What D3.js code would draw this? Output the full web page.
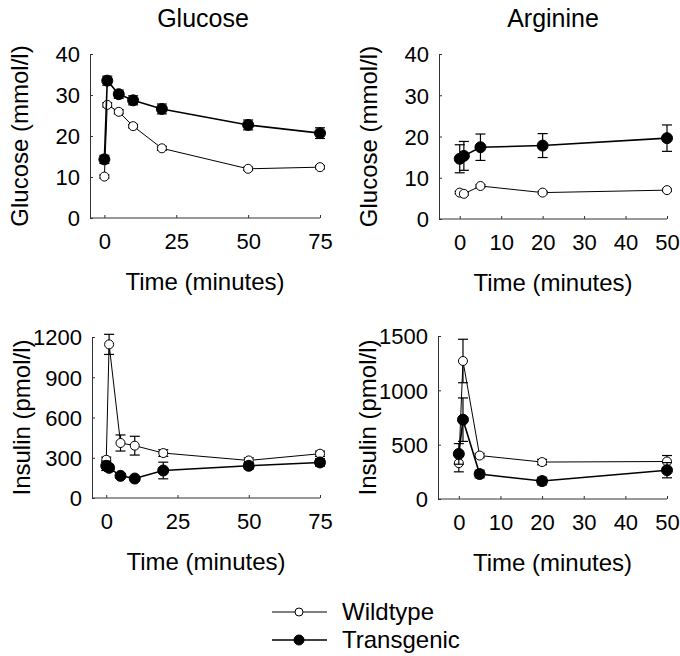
<!DOCTYPE html>
<html lang="en">
<head>
<meta charset="UTF-8">
<title>Glucose and Arginine tests</title>
<script src="https://cdn.jsdelivr.net/npm/d3@7/dist/d3.min.js"></script>
<style>
    body { margin: 0; background: #fff; }
    text { font-family: "Liberation Sans", Arial, sans-serif; fill: #000; }
    .axis path, .axis line { stroke: #333; }
    .axis text { font-size: 22px; }
</style>
</head>
<body>
<script>
// time points (minutes)
const glucoseTestTime = [0, 1, 5, 10, 20, 50, 75];
const arginineTestTime = [0, 1, 5, 20, 50];

// glucose test: blood glucose (mmol/l)
const gttGlucoseWild = [10.1, 27.6, 25.9, 22.4, 17.0, 12.0, 12.4];
const gttGlucoseWildErr = [0.4, 0.5, 0.5, 0.4, 0.5, 0.4, 0.4];
const gttGlucoseTrans = [14.3, 33.5, 30.2, 28.7, 26.6, 22.7, 20.7];
const gttGlucoseTransErr = [1.0, 1.1, 1.0, 1.1, 1.2, 1.2, 1.3];

// glucose test: insulin (pmol/l)
const gttInsulinWild = [285, 1145, 410, 390, 335, 280, 330];
const gttInsulinWildErr = [20, 75, 60, 70, 25, 20, 20];
const gttInsulinTrans = [240, 225, 165, 145, 205, 240, 265];
const gttInsulinTransErr = [35, 25, 15, 15, 62, 25, 28];

// arginine test: blood glucose (mmol/l)
const argGlucoseWild = [6.4, 6.1, 8.0, 6.4, 7.0];
const argGlucoseWildErr = [0.3, 0.3, 0.3, 0.3, 0.3];
const argGlucoseTrans = [14.6, 15.3, 17.4, 17.8, 19.6];
const argGlucoseTransErr = [3.4, 3.5, 3.2, 2.9, 3.2];

// arginine test: insulin (pmol/l)
const argInsulinWild = [330, 1270, 400, 340, 345];
const argInsulinWildErr = [80, 200, 20, 25, 55];
const argInsulinTrans = [415, 730, 230, 165, 265];
const argInsulinTransErr = [95, 200, 35, 35, 70];

const titles = ["Glucose", "Arginine"];
const seriesNames = ["Wildtype", "Transgenic"];

const width = 680, height = 656;

const svg = d3.select("body").append("svg")
    .attr("width", width)
    .attr("height", height);

const panels = [
    {x0: 90, x1: 320, y0: 218, y1: 54, xmax: 75, xticks: [0, 25, 50, 75],
     ymax: 40, yticks: [0, 10, 20, 30, 40], ylabel: "Glucose (mmol/l)",
     time: glucoseTestTime, wild: gttGlucoseWild, wildErr: gttGlucoseWildErr,
     trans: gttGlucoseTrans, transErr: gttGlucoseTransErr},
    {x0: 439, x1: 667, y0: 219, y1: 54, xmax: 50, xticks: [0, 10, 20, 30, 40, 50],
     ymax: 40, yticks: [0, 10, 20, 30, 40], ylabel: "Glucose (mmol/l)",
     time: arginineTestTime, wild: argGlucoseWild, wildErr: argGlucoseWildErr,
     trans: argGlucoseTrans, transErr: argGlucoseTransErr},
    {x0: 92, x1: 320, y0: 498, y1: 337, xmax: 75, xticks: [0, 25, 50, 75],
     ymax: 1200, yticks: [0, 300, 600, 900, 1200], ylabel: "Insulin (pmol/l)",
     time: glucoseTestTime, wild: gttInsulinWild, wildErr: gttInsulinWildErr,
     trans: gttInsulinTrans, transErr: gttInsulinTransErr},
    {x0: 438, x1: 667, y0: 499, y1: 336, xmax: 50, xticks: [0, 10, 20, 30, 40, 50],
     ymax: 1500, yticks: [0, 500, 1000, 1500], ylabel: "Insulin (pmol/l)",
     time: arginineTestTime, wild: argInsulinWild, wildErr: argInsulinWildErr,
     trans: argInsulinTrans, transErr: argInsulinTransErr}
];

panels.forEach(p => {
    const x = d3.scaleLinear().domain([-5, p.xmax]).range([p.x0, p.x1]);
    const y = d3.scaleLinear().domain([0, p.ymax]).range([p.y0, p.y1]);
    const g = svg.append("g");

    // axes: lines drawn from the scales, short inward ticks
    g.append("g").attr("class", "axis")
        .attr("transform", `translate(0,${p.y0})`)
        .call(d3.axisBottom(x).tickValues(p.xticks).tickFormat(d3.format("d"))
            .tickSize(-3).tickSizeOuter(0).tickPadding(15))
        .call(a => a.select(".domain").attr("d", `M${p.x0},0H${x(p.xmax)}`));

    g.append("g").attr("class", "axis")
        .attr("transform", `translate(${p.x0},0)`)
        .call(d3.axisLeft(y).tickValues(p.yticks).tickFormat(d3.format("d"))
            .tickSize(-3).tickSizeOuter(0).tickPadding(10))
        .call(a => a.selectAll("text").attr("dy", "0.36em"));

    g.append("text")
        .attr("x", (p.x0 + p.x1) / 2)
        .attr("y", p.y0 + 72)
        .attr("text-anchor", "middle")
        .style("font-size", "24px")
        .text("Time (minutes)");

    g.append("text")
        .attr("transform", `translate(${p.x0 - 62},${(p.y0 + p.y1) / 2}) rotate(-90)`)
        .attr("text-anchor", "middle")
        .style("font-size", "24px")
        .text(p.ylabel);

    const series = [
        {vals: p.wild, err: p.wildErr, fill: "#fff", lw: 1, r: 4.5},
        {vals: p.trans, err: p.transErr, fill: "#000", lw: 1.6, r: 5.5}
    ];

    series.forEach(s => {
        const pts = p.time.map((t, i) => ({t, v: s.vals[i], e: s.err[i]}));
        const line = d3.line().x(d => x(d.t)).y(d => y(d.v));

        const eb = g.append("g").attr("stroke", "#000").attr("stroke-width", 1.2);
        eb.selectAll("line.v").data(pts).join("line")
            .attr("x1", d => x(d.t)).attr("x2", d => x(d.t))
            .attr("y1", d => y(d.v - d.e)).attr("y2", d => y(d.v + d.e));
        eb.selectAll("line.top").data(pts).join("line")
            .attr("x1", d => x(d.t) - 5).attr("x2", d => x(d.t) + 5)
            .attr("y1", d => y(d.v + d.e)).attr("y2", d => y(d.v + d.e));
        eb.selectAll("line.bot").data(pts).join("line")
            .attr("x1", d => x(d.t) - 5).attr("x2", d => x(d.t) + 5)
            .attr("y1", d => y(d.v - d.e)).attr("y2", d => y(d.v - d.e));

        g.append("path").datum(pts)
            .attr("fill", "none")
            .attr("stroke", "#000")
            .attr("stroke-width", s.lw)
            .attr("d", line);

        g.selectAll(null).data(pts).join("circle")
            .attr("cx", d => x(d.t))
            .attr("cy", d => y(d.v))
            .attr("r", s.r)
            .attr("fill", s.fill)
            .attr("stroke", "#000")
            .attr("stroke-width", 1);
    });
});

// column titles
svg.selectAll("text.title").data(titles).join("text")
    .attr("class", "title")
    .attr("x", (d, i) => i === 0 ? 203 : 553)
    .attr("y", 27)
    .attr("text-anchor", "middle")
    .style("font-size", "25px")
    .text(d => d);

// legend
const legend = svg.append("g");
seriesNames.forEach((name, i) => {
    const ly = 612 + i * 28;
    legend.append("line")
        .attr("x1", 272).attr("x2", 327).attr("y1", ly).attr("y2", ly)
        .attr("stroke", "#000").attr("stroke-width", i === 0 ? 1 : 1.6);
    legend.append("circle")
        .attr("cx", 299).attr("cy", ly)
        .attr("r", i === 0 ? 4 : 5)
        .attr("fill", i === 0 ? "#fff" : "#000")
        .attr("stroke", "#000");
    legend.append("text")
        .attr("x", 342).attr("y", ly + 8)
        .style("font-size", "24px")
        .text(name);
});
</script>
</body>
</html>
